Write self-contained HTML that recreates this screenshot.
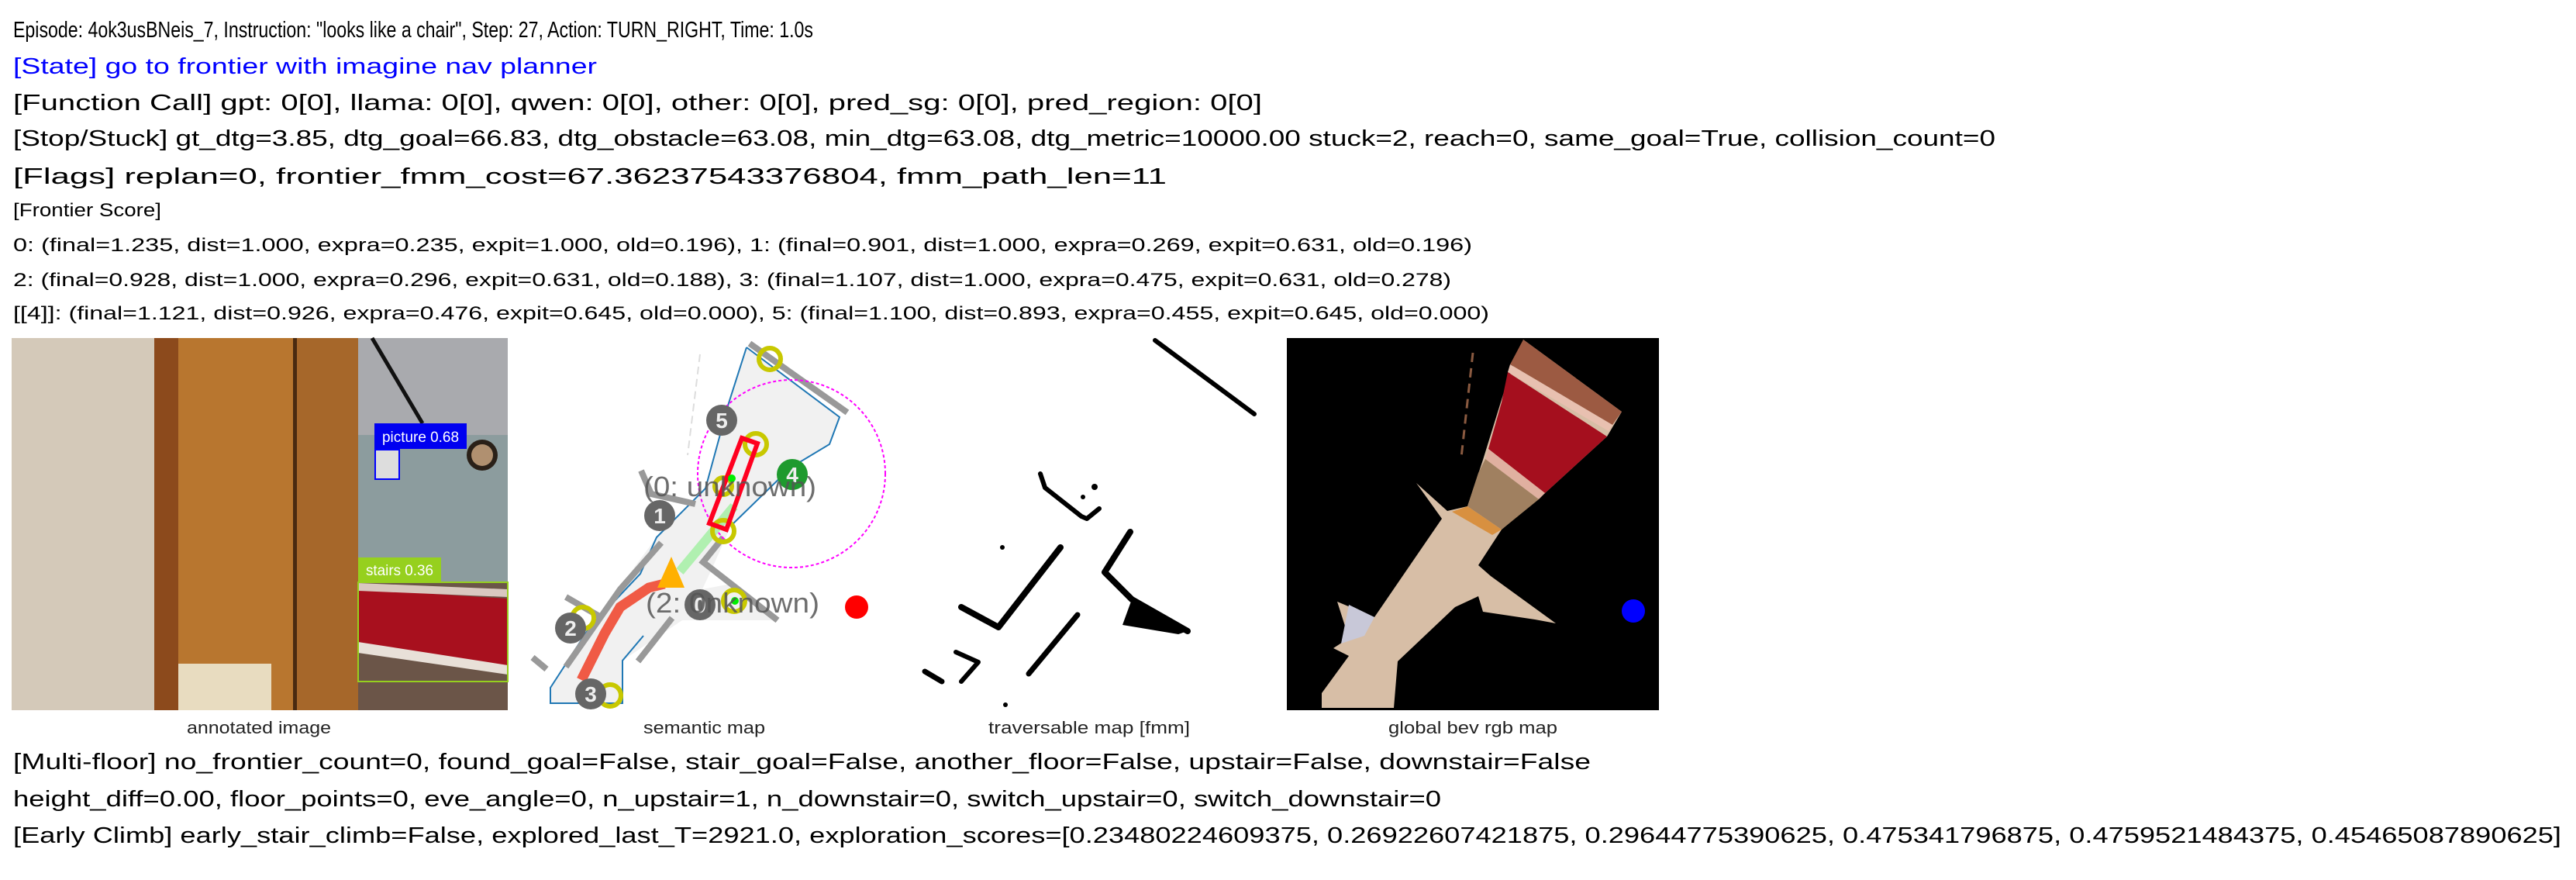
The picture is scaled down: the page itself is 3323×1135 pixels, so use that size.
<!DOCTYPE html>
<html><head><meta charset="utf-8"><style>
html,body{margin:0;padding:0;background:#fff;}
svg{display:block;}
text{font-family:"Liberation Sans",sans-serif;}
</style></head><body>
<svg width="3323" height="1135" viewBox="0 0 3323 1135" xmlns="http://www.w3.org/2000/svg">
<rect width="3323" height="1135" fill="#fff"/>
<g font-size="29" fill="#000" lengthAdjust="spacingAndGlyphs">
<text x="17" y="48" textLength="1032" lengthAdjust="spacingAndGlyphs">Episode: 4ok3usBNeis_7, Instruction: "looks like a chair", Step: 27, Action: TURN_RIGHT, Time: 1.0s</text>
<text x="17" y="95" textLength="753" lengthAdjust="spacingAndGlyphs" fill="#0000ff">[State] go to frontier with imagine nav planner</text>
<text x="17" y="142" textLength="1611" lengthAdjust="spacingAndGlyphs">[Function Call] gpt: 0[0], llama: 0[0], qwen: 0[0], other: 0[0], pred_sg: 0[0], pred_region: 0[0]</text>
<text x="17" y="188" textLength="2557" lengthAdjust="spacingAndGlyphs">[Stop/Stuck] gt_dtg=3.85, dtg_goal=66.83, dtg_obstacle=63.08, min_dtg=63.08, dtg_metric=10000.00 stuck=2, reach=0, same_goal=True, collision_count=0</text>
<text x="17" y="237" textLength="1488" lengthAdjust="spacingAndGlyphs">[Flags] replan=0, frontier_fmm_cost=67.36237543376804, fmm_path_len=11</text>
</g>
<g font-size="24" fill="#000">
<text x="17" y="279" textLength="191" lengthAdjust="spacingAndGlyphs">[Frontier Score]</text>
<text x="17" y="324" textLength="1882" lengthAdjust="spacingAndGlyphs">0: (final=1.235, dist=1.000, expra=0.235, expit=1.000, old=0.196), 1: (final=0.901, dist=1.000, expra=0.269, expit=0.631, old=0.196)</text>
<text x="17" y="369" textLength="1855" lengthAdjust="spacingAndGlyphs">2: (final=0.928, dist=1.000, expra=0.296, expit=0.631, old=0.188), 3: (final=1.107, dist=1.000, expra=0.475, expit=0.631, old=0.278)</text>
<text x="17" y="412" textLength="1904" lengthAdjust="spacingAndGlyphs">[[4]]: (final=1.121, dist=0.926, expra=0.476, expit=0.645, old=0.000), 5: (final=1.100, dist=0.893, expra=0.455, expit=0.645, old=0.000)</text>
</g>

<!-- annotated image -->
<g>
<rect x="15" y="436" width="640" height="480" fill="#d4c9b9"/>
<rect x="199" y="436" width="31" height="480" fill="#8c4a1c"/>
<rect x="230" y="436" width="150" height="480" fill="#b8762f"/>
<rect x="378" y="436" width="5" height="480" fill="#4a2a10"/>
<rect x="383" y="436" width="79" height="480" fill="#a6672a"/>
<rect x="230" y="856" width="120" height="60" fill="#e8dcc0"/>
<rect x="462" y="436" width="193" height="125" fill="#a9aaae"/>
<rect x="462" y="561" width="193" height="190" fill="#8c9c9e"/>
<rect x="462" y="751" width="193" height="165" fill="#6b5548"/>
<polygon points="462,760 655,772 655,860 462,830" fill="#a8101e"/>
<polygon points="462,828 655,858 655,870 462,842" fill="#e8e0d8"/>
<polygon points="462,752 655,760 655,770 462,762" fill="#d9c8c0"/>
<circle cx="622" cy="587" r="20" fill="#2a2018"/>
<circle cx="622" cy="587" r="14" fill="#b09070"/>
<line x1="480" y1="436" x2="545" y2="546" stroke="#111" stroke-width="5"/>
<rect x="484" y="580" width="31" height="38" fill="#ddd" stroke="#0000ff" stroke-width="2"/>
<rect x="483" y="546" width="119" height="33" fill="#0000f0"/>
<text x="493" y="570" font-size="19" fill="#fff" textLength="99" lengthAdjust="spacingAndGlyphs">picture 0.68</text>
<rect x="462" y="751" width="193" height="128" fill="none" stroke="#96d01e" stroke-width="2"/>
<rect x="462" y="719" width="107" height="32" fill="#96d01e"/>
<text x="472" y="742" font-size="19" fill="#fff" textLength="87" lengthAdjust="spacingAndGlyphs">stairs 0.36</text>
</g>

<!-- semantic map -->
<g>
<polygon points="963,448 1083,538 1070,573 1020,603 943,678 920,730 906,760 943,753 1003,800 880,800 803,852 803,907 710,907 710,887 723,867 760,810 847,693 910,630 940,520" fill="#f1f1f1"/>
<polyline points="963,448 940,520 910,630 847,693 826,740 760,810 723,867 710,887 710,907 803,907 803,852 830,820" fill="none" stroke="#1f77b4" stroke-width="2"/>
<polyline points="963,448 1083,538 1070,573 1020,603 943,678" fill="none" stroke="#1f77b4" stroke-width="2"/>
<line x1="903" y1="457" x2="887" y2="587" stroke="#ddd" stroke-width="2" stroke-dasharray="10,6"/>
<g stroke="#999" stroke-width="8" fill="none">
<line x1="967" y1="443" x2="1093" y2="532"/>
<polyline points="853,700 800,760 730,860"/>
<polyline points="933,693 907,725 943,753 1003,800"/>
<line x1="730" y1="770" x2="777" y2="797"/>
<line x1="687" y1="848" x2="705" y2="863"/>
<line x1="823" y1="853" x2="867" y2="797"/>
<polyline points="827,607 840,637 897,650"/>
</g>
<circle cx="1021" cy="611" r="121" fill="none" stroke="#ff00ff" stroke-width="2" stroke-dasharray="4,3"/>
<line x1="877" y1="737" x2="947" y2="653" stroke="#b0f0b0" stroke-width="12"/>
<polyline points="750,877 780,817 800,783 837,758 857,753" fill="none" stroke="#f05a45" stroke-width="13"/>
<polygon points="866,718 848,758 883,758" fill="#ffb000"/>
<g fill="none" stroke="#c8c800" stroke-width="6">
<circle cx="993" cy="463" r="14"/><circle cx="975" cy="573" r="14"/><circle cx="933" cy="685" r="14"/>
<circle cx="947" cy="775" r="14"/><circle cx="752" cy="797" r="14"/><circle cx="787" cy="897" r="14"/><circle cx="933" cy="627" r="11"/>
</g>
<polygon points="957,565 977,572 937,683 915,675" fill="none" stroke="#ff0020" stroke-width="6"/>
<circle cx="944" cy="617" r="5" fill="#00ee00"/><circle cx="948" cy="775" r="5" fill="#00ee00"/>
<g fill="#666">
<circle cx="931" cy="542" r="20"/><circle cx="851" cy="665" r="20"/><circle cx="736" cy="810" r="20"/><circle cx="762" cy="895" r="20"/><circle cx="903" cy="780" r="20"/>
</g>
<circle cx="1022" cy="612" r="20" fill="#1e9a2e"/>
<g font-size="28" fill="#eee" text-anchor="middle" font-weight="bold">
<text x="931" y="552">5</text><text x="851" y="675">1</text><text x="736" y="820">2</text><text x="762" y="905">3</text><text x="903" y="790">0</text><text x="1022" y="622">4</text>
</g>
<g font-size="36" fill="#555" fill-opacity="0.85">
<text x="830" y="640" textLength="223" lengthAdjust="spacingAndGlyphs">(0: unknown)</text>
<text x="833" y="790" textLength="224" lengthAdjust="spacingAndGlyphs">(2: 0nknown)</text>
</g>
<circle cx="1105" cy="783" r="15" fill="#ff0000"/>
</g>

<!-- traversable map -->
<g stroke="#000" fill="none" stroke-linecap="round" stroke-linejoin="round">
<line x1="1490" y1="439" x2="1618" y2="534" stroke-width="6"/>
<polyline points="1342,611 1348,629 1395,666 1402,669 1418,656" stroke-width="6"/>
<polyline points="1368,706 1288,809 1240,783" stroke-width="8"/>
<polyline points="1458,686 1425,738 1460,773 1532,814" stroke-width="8"/>
<line x1="1390" y1="793" x2="1327" y2="869" stroke-width="7"/>
<polyline points="1233,841 1262,854 1240,879" stroke-width="6"/>
<line x1="1193" y1="866" x2="1215" y2="879" stroke-width="7"/>
</g>
<polygon points="1460,773 1532,814 1520,818 1448,806" fill="#000"/>
<g fill="#000"><circle cx="1412" cy="628" r="4"/><circle cx="1397" cy="641" r="3"/><circle cx="1293" cy="706" r="3"/><circle cx="1297" cy="909" r="3"/></g>

<!-- global bev -->
<rect x="1660" y="436" width="480" height="480" fill="#000"/>
<polygon points="1965,438 2092,531 2073,563 1993,636 1937,683 1907,729 1923,743 2007,804 1980,799 1913,789 1907,769 1877,783 1803,853 1798,913 1705,913 1705,894 1740,846 1720,836 1740,823 1725,776 1773,796 1860,669 1827,623 1867,659 1893,653 1913,593 1943,496" fill="#d7bea6"/>
<polygon points="1965,438 2092,531 2080,548 1948,470" fill="#9c5a42"/>
<polygon points="1948,470 2080,548 2075,556 1945,480" fill="#e8c0b0"/>
<polygon points="1945,480 2073,563 1993,636 1920,579 1937,519" fill="#a50f1e"/>
<polygon points="1920,579 1993,636 1985,644 1916,592" fill="#e0b0a0"/>
<polygon points="1916,592 1985,644 1937,683 1893,653 1907,610" fill="#a08060"/>
<polygon points="1893,653 1937,683 1925,690 1873,660" fill="#d89040"/>
<polygon points="1740,780 1773,796 1760,820 1730,830" fill="#c8c8d8"/>
<line x1="1900" y1="455" x2="1885" y2="590" stroke="#8a5a40" stroke-width="3" stroke-dasharray="12,8"/>
<circle cx="2107" cy="788" r="15" fill="#0000ff"/>

<!-- labels -->
<g font-size="22" fill="#222">
<text x="241" y="946" textLength="186" lengthAdjust="spacingAndGlyphs">annotated image</text>
<text x="830" y="946" textLength="157" lengthAdjust="spacingAndGlyphs">semantic map</text>
<text x="1275" y="946" textLength="260" lengthAdjust="spacingAndGlyphs">traversable map [fmm]</text>
<text x="1791" y="946" textLength="218" lengthAdjust="spacingAndGlyphs">global bev rgb map</text>
</g>

<g font-size="29" fill="#000">
<text x="17" y="992" textLength="2035" lengthAdjust="spacingAndGlyphs">[Multi-floor] no_frontier_count=0, found_goal=False, stair_goal=False, another_floor=False, upstair=False, downstair=False</text>
<text x="17" y="1040" textLength="1842" lengthAdjust="spacingAndGlyphs">height_diff=0.00, floor_points=0, eve_angle=0, n_upstair=1, n_downstair=0, switch_upstair=0, switch_downstair=0</text>
<text x="17" y="1087" textLength="3287" lengthAdjust="spacingAndGlyphs">[Early Climb] early_stair_climb=False, explored_last_T=2921.0, exploration_scores=[0.23480224609375, 0.26922607421875, 0.29644775390625, 0.475341796875, 0.4759521484375, 0.45465087890625]</text>
</g>
</svg>
</body></html>
